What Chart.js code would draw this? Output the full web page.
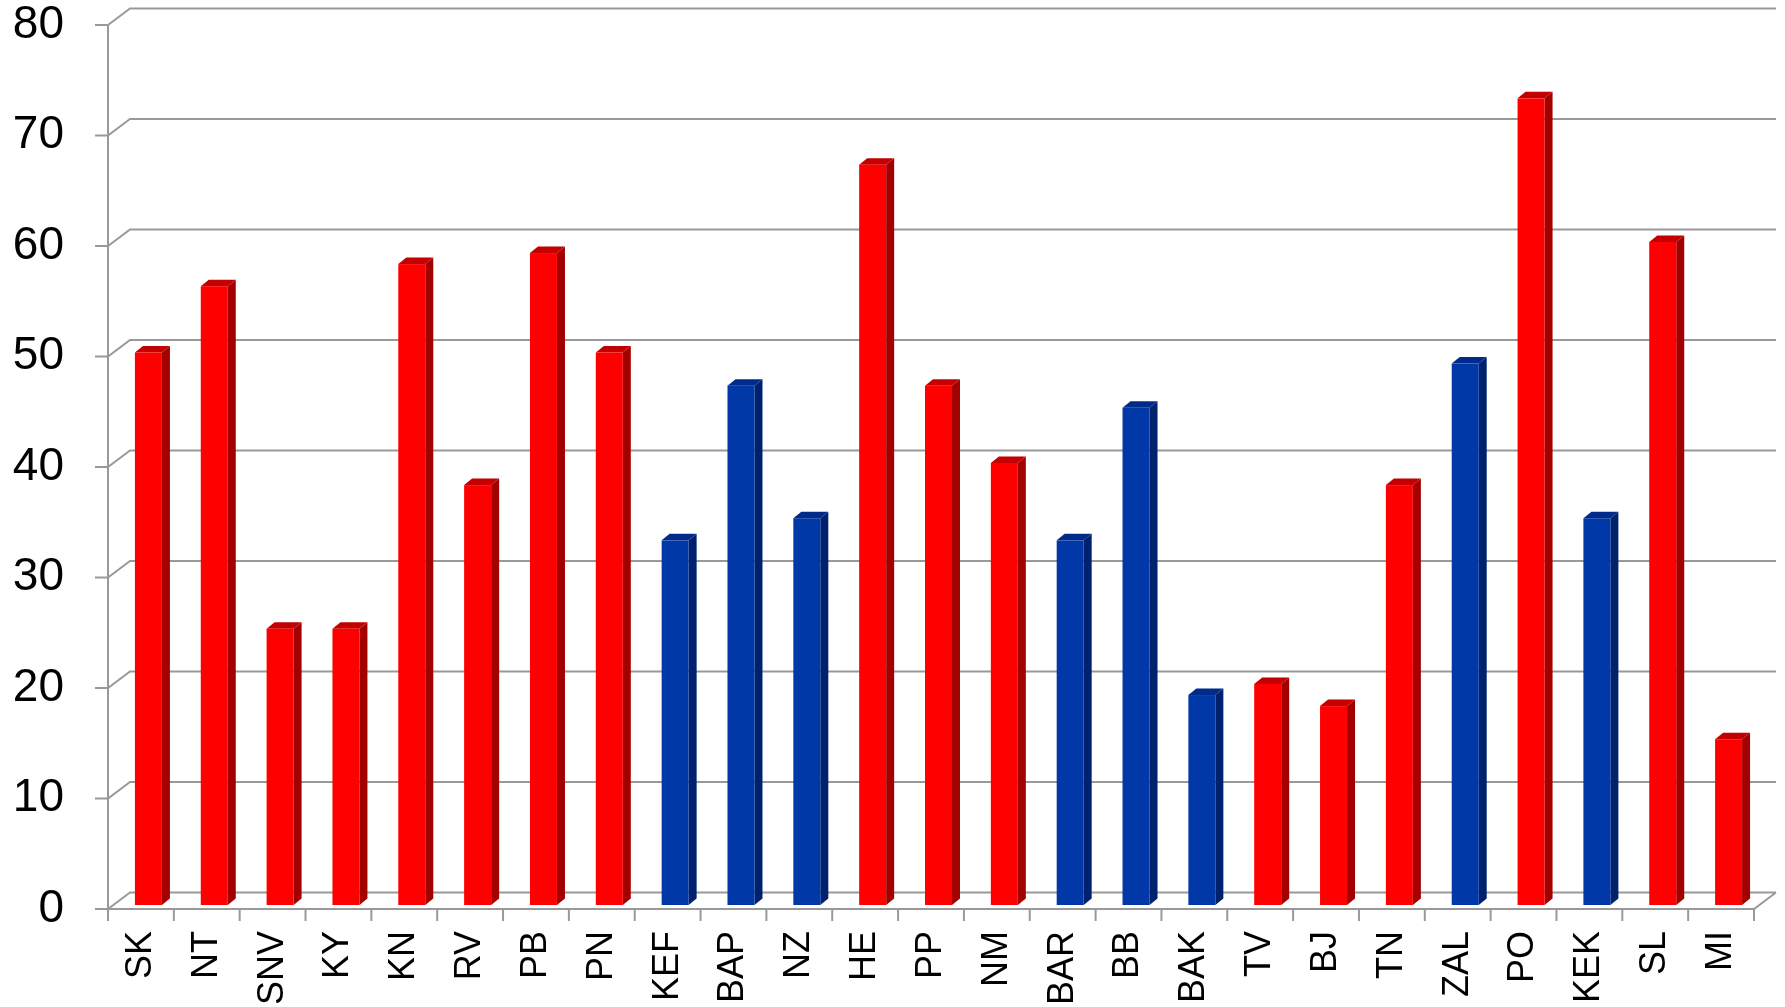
<!DOCTYPE html>
<html>
<head>
<meta charset="utf-8">
<script src="https://cdn.jsdelivr.net/npm/chart.js@4"></script>
<style>
  html, body { margin: 0; padding: 0; background: #fff; }
  #wrap { width: 1785px; height: 1007px; }
</style>
</head>
<body>
<div id="wrap"><canvas id="chart" width="1785" height="1007"></canvas></div>
<script>
// ==== Data ====
const labels = ['SK', 'NT', 'SNV', 'KY', 'KN', 'RV', 'PB', 'PN', 'KEF', 'BAP', 'NZ', 'HE', 'PP',
  'NM', 'BAR', 'BB', 'BAK', 'TV', 'BJ', 'TN', 'ZAL', 'PO', 'KEK', 'SL', 'MI'];
const values = [50, 56, 25, 25, 58, 38, 59, 50, 33, 47, 35, 67, 47,
  40, 33, 45, 19, 20, 18, 38, 49, 73, 35, 60, 15];
// r = red group, b = blue group
const groups = ['r', 'r', 'r', 'r', 'r', 'r', 'r', 'r', 'b', 'b', 'b', 'r', 'r',
  'r', 'b', 'b', 'b', 'r', 'r', 'r', 'b', 'r', 'b', 'r', 'r'];
const yTicks = [0, 10, 20, 30, 40, 50, 60, 70, 80];

// ==== Style ====
const palette = {
  r: { front: '#ff0000', side: '#a30000', top: '#c40000' },
  b: { front: '#0038a8', side: '#00226e', top: '#002b8a' }
};
const gridColor = '#999999';
const wall = { dx: 22, dy: -16.5 };     // depth of back wall
const barShift = { dx: 7.5, dy: -4 };   // bars sit in the middle of the depth
const barDepth = { dx: 8, dy: -6.5 };

// ==== Plugin 3D: dinding + lantai ====
const wallPlugin = {
  id: 'wall3d',
  beforeDatasetsDraw(chart) {
    const { ctx, chartArea: a, scales: { x, y } } = chart;
    ctx.save();
    ctx.strokeStyle = gridColor;
    ctx.lineWidth = 2;
    ctx.beginPath();
    yTicks.forEach(v => {
      const py = y.getPixelForValue(v);
      ctx.moveTo(a.left - 13, py);
      ctx.lineTo(a.left, py);
      ctx.lineTo(a.left + wall.dx, py + wall.dy);
      ctx.lineTo(a.right + wall.dx, py + wall.dy);
    });
    // sumbu y
    ctx.moveTo(a.left, y.getPixelForValue(80));
    ctx.lineTo(a.left, a.bottom);
    // sumbu x depan
    ctx.moveTo(a.left, a.bottom);
    ctx.lineTo(a.right, a.bottom);
    ctx.lineTo(a.right + wall.dx, a.bottom + wall.dy);
    // tick kategori
    const step = (a.right - a.left) / labels.length;
    for (let i = 0; i <= labels.length; i++) {
      const px = a.left + i * step;
      ctx.moveTo(px, a.bottom);
      ctx.lineTo(px, a.bottom + 12);
    }
    ctx.stroke();
    ctx.restore();
  },
  afterDatasetsDraw(chart) {
    const { ctx } = chart;
    const meta = chart.getDatasetMeta(0);
    ctx.save();
    meta.data.forEach((el, i) => {
      const p = el.getProps(['x', 'y', 'base', 'width'], true);
      const c = palette[groups[i]];
      const x0 = p.x - p.width / 2 + barShift.dx;
      const x1 = p.x + p.width / 2 + barShift.dx;
      const y0 = p.y + barShift.dy;
      const y1 = p.base + barShift.dy;

      // sisi kanan
      ctx.fillStyle = c.side;
      ctx.beginPath();
      ctx.moveTo(x1, y0);
      ctx.lineTo(x1 + barDepth.dx, y0 + barDepth.dy);
      ctx.lineTo(x1 + barDepth.dx, y1 + barDepth.dy);
      ctx.lineTo(x1, y1);
      ctx.closePath();
      ctx.fill();

      // atas
      ctx.fillStyle = c.top;
      ctx.beginPath();
      ctx.moveTo(x0, y0);
      ctx.lineTo(x0 + barDepth.dx, y0 + barDepth.dy);
      ctx.lineTo(x1 + barDepth.dx, y0 + barDepth.dy);
      ctx.lineTo(x1, y0);
      ctx.closePath();
      ctx.fill();

      // depan
      ctx.fillStyle = c.front;
      ctx.fillRect(x0, y0, x1 - x0, y1 - y0);
    });
    ctx.restore();
  }
};

// ==== Chart.js ====
const ctx = document.getElementById('chart').getContext('2d');
const chart = new Chart(ctx, {
  type: 'bar',
  data: {
    labels: labels,
    datasets: [{
      data: values,
      backgroundColor: 'rgba(0,0,0,0)',
      borderWidth: 0,
      barPercentage: 0.41,
      categoryPercentage: 1
    }]
  },
  options: {
    responsive: false,
    animation: false,
    layout: { padding: { top: 25, right: 31, bottom: 0, left: 0 } },
    plugins: { legend: { display: false }, tooltip: { enabled: false } },
    scales: {
      x: {
        grid: { display: false },
        border: { display: false },
        ticks: {
          color: '#000',
          font: { family: 'Liberation Sans, Arial, sans-serif', size: 36 },
          minRotation: 90,
          maxRotation: 90,
          padding: 14,
          autoSkip: false
        },
        afterFit: (scale) => {
          scale.height = 98;
          scale.paddingLeft = 0;
          scale.paddingRight = 0;
        }
      },
      y: {
        min: 0,
        max: 80,
        grid: { display: false },
        border: { display: false },
        ticks: {
          stepSize: 10,
          color: '#000',
          font: { family: 'Liberation Sans, Arial, sans-serif', size: 46, lineHeight: 1 },
          padding: 36
        },
        afterFit: (scale) => {
          scale.width = 108;
          scale.paddingTop = 0;
          scale.paddingBottom = 0;
        }
      }
    }
  },
  plugins: [wallPlugin]
});
</script>
</body>
</html>
